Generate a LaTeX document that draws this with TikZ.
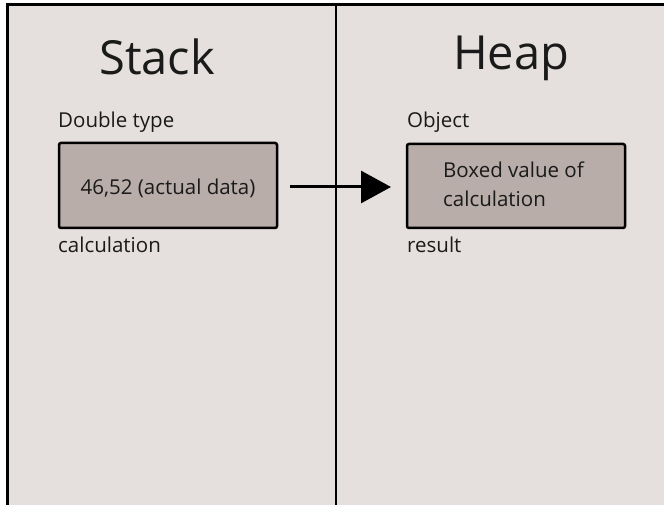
\documentclass[tikz,border=0pt]{standalone}
\usepackage{fontspec}
\setmainfont{Open Sans}
\usetikzlibrary{arrows.meta}
\definecolor{bgc}{HTML}{E5E0DD}
\definecolor{boxc}{HTML}{B8ADA9}
\definecolor{txt}{HTML}{1A1A1A}
\begin{document}
\begin{tikzpicture}[x=1pt,y=-1pt,
  lbl/.style={anchor=base west,inner sep=0pt,font=\fontsize{20.5}{24}\selectfont,text=txt},
  ttl/.style={anchor=base,inner sep=0pt,font=\fontsize{47}{56}\selectfont,text=txt},
  valbox/.style={draw=black,line width=2.5pt,fill=boxc,rounded corners=2pt}]
\useasboundingbox (0,0) rectangle (664,505);
\fill[white] (0,0) rectangle (664,505);
\fill[bgc] (7,5) rectangle (664,505);
\draw[line width=3pt] (7,505) -- (7,5) -- (664,5);
\draw[line width=2pt] (336,5) -- (336,505);
\node[ttl] (stack) at (157,75) {Stack};
\node[ttl] (heap) at (511,70) {Heap};
\node[lbl] (dtype) at (58,128) {Double type};
\node[lbl] (obj) at (407,128) {Object};
\node[valbox,minimum width=218pt,minimum height=85pt,inner sep=0pt] (sbox) at (168,185.5) {};
\node[anchor=base,inner sep=0pt,font=\fontsize{20.5}{24}\selectfont,text=txt] (sval) at (168,195) {46,52 (actual data)};
\node[valbox,minimum width=218pt,minimum height=84pt,inner sep=0pt] (hbox) at (516,186) {};
\node[lbl] (hv1) at (443,178) {Boxed value of};
\node[lbl] (hv2) at (443,207) {calculation};
\node[lbl] (calc) at (58,252) {calculation};
\node[lbl] (res) at (407,252) {result};
\coordinate (astart) at (290,187);
\coordinate (aend) at (391,187);
\draw[line width=3pt,-{Triangle[length=30pt,width=32pt]}] (astart) -- (aend);
\end{tikzpicture}
\end{document}
